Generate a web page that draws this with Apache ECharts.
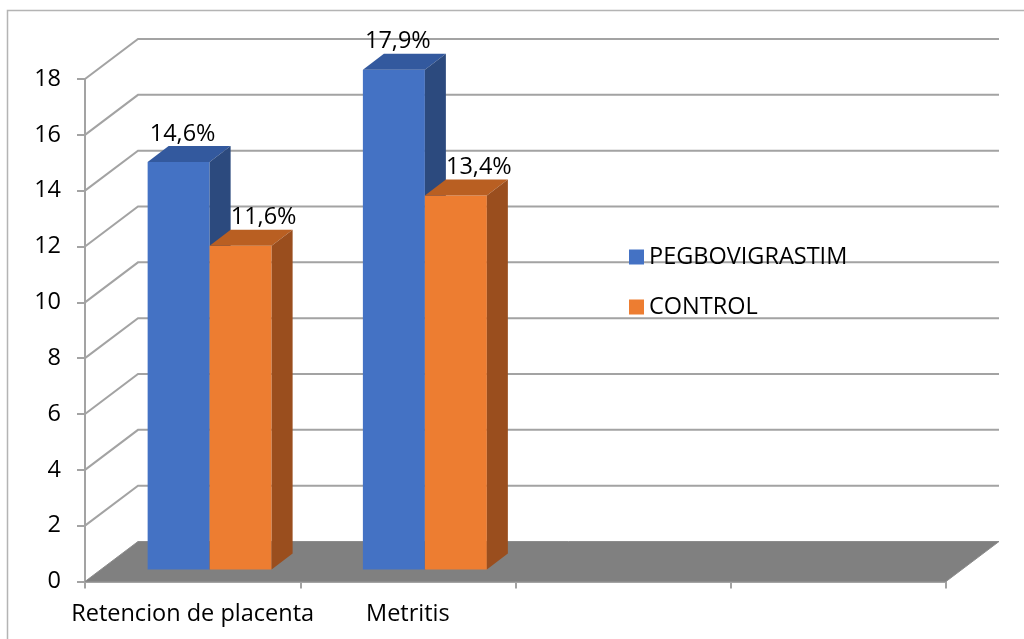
<!DOCTYPE html>
<html>
<head>
<meta charset="utf-8">
<script src="https://cdn.jsdelivr.net/npm/echarts@6/dist/echarts.min.js"></script>
<style>html,body{margin:0;padding:0;background:#fff;}#c{width:1024px;height:639px;}</style>
</head>
<body>
<div id="c"></div>
<script>
const categories = ['Retencion de placenta', 'Metritis', '', ''];
const seriesNames = ['PEGBOVIGRASTIM', 'CONTROL'];
const pegValues = [14.6, 17.9];
const controlValues = [11.6, 13.4];
const yTicks = [0, 2, 4, 6, 8, 10, 12, 14, 16, 18];

const FONT = '"Open Sans"';
const FS = 23.5;
const DX = 53, DY = -40;     // full depth of the box
const FX = 17, FY = -12;     // front plane of bars
const BX = 21, BY = -16;     // bar depth
const GRID_COLOR = '#a3a3a3';

function fmt(v) { return v.toFixed(1).replace('.', ',') + '%'; }

function barRenderer(slot, front, topC, sideC, labelDx) {
  return function (params, api) {
    const cat = api.value(0), val = api.value(1);
    const base = api.coord([cat, 0]);
    const top = api.coord([cat, val]);
    const band = api.size([1, 0])[0];
    const bw = band * 0.288;
    const x0 = base[0] - bw + slot * bw + FX, x1 = x0 + bw;
    const yb = base[1] + FY, yt = top[1] + FY;
    return {
      type: 'group',
      children: [
        { type: 'rect', shape: { x: x0, y: yt, width: bw, height: yb - yt }, style: { fill: front } },
        { type: 'polygon', shape: { points: [[x0, yt], [x1, yt], [x1 + BX, yt + BY], [x0 + BX, yt + BY]] }, style: { fill: topC } },
        { type: 'polygon', shape: { points: [[x1, yt], [x1 + BX, yt + BY], [x1 + BX, yb + BY], [x1, yb]] }, style: { fill: sideC } },
        { type: 'text', style: { text: fmt(val), x: (x0 + x1) / 2 + labelDx, y: yt + BY - 12, align: 'center', verticalAlign: 'middle', fontFamily: FONT, fontSize: FS, fill: '#000' } }
      ]
    };
  };
}

function wallRenderer(params, api) {
  const v = api.value(1);
  const cs = params.coordSys;
  const y = api.coord([0, v])[1];
  const l = cs.x, r = cs.x + cs.width;
  if (v === 0) {
    return { type: 'polygon', shape: { points: [[l, y], [r, y], [r + DX, y + DY], [l + DX, y + DY]] }, style: { fill: '#808080', stroke: '#8c8c8c', lineWidth: 1 } };
  }
  return { type: 'polyline', shape: { points: [[l, y], [l + DX, y + DY], [r + DX, y + DY]] }, style: { stroke: GRID_COLOR, lineWidth: 2, fill: null } };
}

const chart = echarts.init(document.getElementById('c'));
chart.setOption({
  animation: false,
  backgroundColor: '#fff',
  graphic: [{ type: 'rect', shape: { x: 7.5, y: 10.5, width: 1100, height: 700 }, style: { fill: null, stroke: '#b4b4b4', lineWidth: 1.5 }, z: -10, silent: true }],
  grid: { left: 85, right: 78, top: 79, bottom: 57.5 },
  legend: {
    data: seriesNames, orient: 'vertical', left: 629, top: 245, itemWidth: 15, itemHeight: 15, itemGap: 26,
    icon: 'rect', textStyle: { fontFamily: FONT, fontSize: FS, color: '#000' }, padding: 0
  },
  xAxis: {
    type: 'category', data: categories, boundaryGap: true,
    axisLine: { show: true, lineStyle: { color: GRID_COLOR, width: 2 } },
    axisTick: { show: true, length: 7, lineStyle: { color: GRID_COLOR, width: 2 } },
    axisLabel: { fontFamily: FONT, fontSize: FS, color: '#000', margin: 21, interval: 0 },
    splitLine: { show: false }
  },
  yAxis: {
    type: 'value', min: 0, max: 18, interval: 2,
    axisLine: { show: true, lineStyle: { color: GRID_COLOR, width: 2 } },
    axisTick: { show: true, length: 8, lineStyle: { color: GRID_COLOR, width: 2 } },
    axisLabel: { fontFamily: FONT, fontSize: FS, color: '#000', margin: 24 },
    splitLine: { show: false }
  },
  series: [
    { type: 'custom', name: 'wall', z: 1, silent: true, renderItem: wallRenderer, data: yTicks.map(v => [0, v]) },
    { type: 'custom', name: seriesNames[0], z: 3, itemStyle: { color: '#4472C4' }, renderItem: barRenderer(0, '#4472C4', '#33599e', '#2c4a7e', 4), data: pegValues.map((v, i) => [i, v]) },
    { type: 'custom', name: seriesNames[1], z: 4, itemStyle: { color: '#ED7D31' }, renderItem: barRenderer(1, '#ED7D31', '#b95f22', '#9a4e1e', 23), data: controlValues.map((v, i) => [i, v]) }
  ]
});
</script>
</body>
</html>
